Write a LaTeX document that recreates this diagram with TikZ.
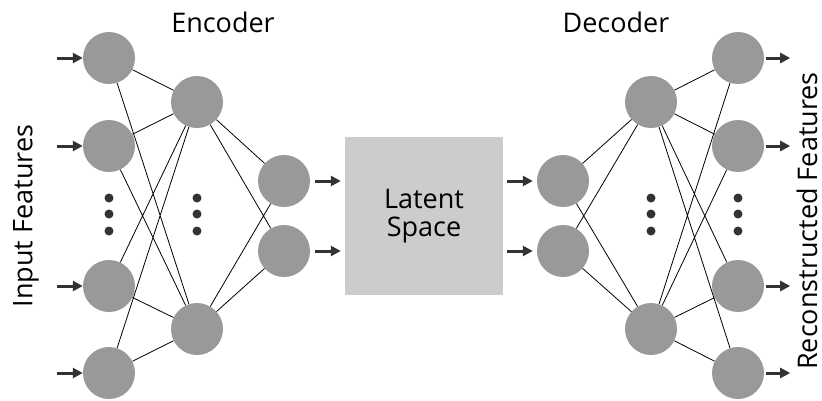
\documentclass[tikz,border=0pt]{standalone}
\usepackage{fontspec}
\setmainfont{Open Sans}
\usetikzlibrary{arrows.meta}

\definecolor{neurongray}{HTML}{999999}
\definecolor{latentgray}{HTML}{CCCCCC}
\definecolor{arrowgray}{HTML}{333333}

\tikzset{
  neuron/.style={circle, fill=neurongray, minimum size=52pt, inner sep=0pt},
  latent/.style={fill=latentgray, minimum width=158pt, minimum height=158pt, align=center},
  link/.style={black, line width=0.8pt},
  arr/.style={-{Triangle[length=10pt,width=10pt]}, line width=3pt, arrowgray},
}

\begin{document}
\begin{tikzpicture}[x=1pt, y=-1pt, font=\fontsize{27}{28}\selectfont]
  \useasboundingbox (0,0) rectangle (822,400);

  % Encoder neurons
  \node[neuron] (i1) at (109,58) {};
  \node[neuron] (i2) at (109,146) {};
  \node[neuron] (i3) at (109,286) {};
  \node[neuron] (i4) at (109,373) {};
  \node[neuron] (h1) at (197,102) {};
  \node[neuron] (h2) at (197,329) {};
  \node[neuron] (e1) at (284,181) {};
  \node[neuron] (e2) at (284,251) {};

  % Bottleneck
  \node[latent] (latent) at (424,216) {Latent\\Space};

  % Decoder neurons
  \node[neuron] (d1) at (563,181) {};
  \node[neuron] (d2) at (563,251) {};
  \node[neuron] (g1) at (651,102) {};
  \node[neuron] (g2) at (651,329) {};
  \node[neuron] (o1) at (738,58) {};
  \node[neuron] (o2) at (738,146) {};
  \node[neuron] (o3) at (738,286) {};
  \node[neuron] (o4) at (738,373) {};

  % Weights (fully connected)
  \draw[link] (i1) -- (h1) (i1) -- (h2) (i2) -- (h1) (i2) -- (h2)
              (i3) -- (h1) (i3) -- (h2) (i4) -- (h1) (i4) -- (h2);
  \draw[link] (h1) -- (e1) (h1) -- (e2) (h2) -- (e1) (h2) -- (e2);
  \draw[link] (d1) -- (g1) (d1) -- (g2) (d2) -- (g1) (d2) -- (g2);
  \draw[link] (g1) -- (o1) (g1) -- (o2) (g1) -- (o3) (g1) -- (o4)
              (g2) -- (o1) (g2) -- (o2) (g2) -- (o3) (g2) -- (o4);

  % Vertical ellipses
  \fill[arrowgray] (109,198) circle (4.5pt) (109,214) circle (4.5pt) (109,231) circle (4.5pt);
  \fill[arrowgray] (197,198) circle (4.5pt) (197,214) circle (4.5pt) (197,231) circle (4.5pt);
  \fill[arrowgray] (651,198) circle (4.5pt) (651,214) circle (4.5pt) (651,231) circle (4.5pt);
  \fill[arrowgray] (738,198) circle (4.5pt) (738,214) circle (4.5pt) (738,231) circle (4.5pt);

  % Inputs and outputs
  \draw[arr] (i1.west) ++(-26,0) -- (i1.west);
  \draw[arr] (i2.west) ++(-26,0) -- (i2.west);
  \draw[arr] (i3.west) ++(-26,0) -- (i3.west);
  \draw[arr] (i4.west) ++(-26,0) -- (i4.west);
  \draw[arr, shorten <=5pt, shorten >=4pt] (e1.east) -- (e1 -| latent.west);
  \draw[arr, shorten <=5pt, shorten >=4pt] (e2.east) -- (e2 -| latent.west);
  \draw[arr, shorten <=4pt, shorten >=4pt] (d1 -| latent.east) -- (d1.west);
  \draw[arr, shorten <=4pt, shorten >=4pt] (d2 -| latent.east) -- (d2.west);
  \draw[arr, shorten <=2pt] (o1.east) -- ++(26,0);
  \draw[arr, shorten <=2pt] (o2.east) -- ++(26,0);
  \draw[arr, shorten <=2pt] (o3.east) -- ++(26,0);
  \draw[arr, shorten <=2pt] (o4.east) -- ++(26,0);

  % Labels
  \node (enc) at (223,22) {Encoder};
  \node (dec) at (616,22) {Decoder};
  \node[rotate=90] (inlabel) at (26,216) {Input Features};
  \node[rotate=90] (outlabel) at (807,221) {Reconstructed Features};
\end{tikzpicture}
\end{document}
